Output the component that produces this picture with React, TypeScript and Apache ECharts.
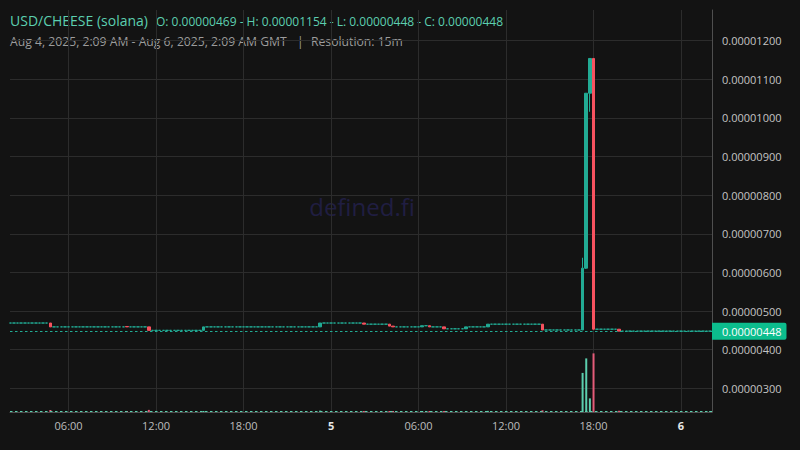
import React, { useEffect, useRef } from 'react';
import * as echarts from 'echarts';

const PAIR_LABEL = 'USD/CHEESE (solana)';
const RANGE_LABEL = 'Aug 4, 2025, 2:09 AM - Aug 6, 2025, 2:09 AM GMT';
const RESOLUTION_LABEL = 'Resolution: 15m';
const WATERMARK = 'defined.fi';

// Prices are stored in units of 1e-8 USD: 448 means 0.00000448.
const PRICE_DIVISOR = 1e8;
const BAR_MINUTES = 15;
const FIRST_BAR = '2025-08-04T02:00Z';
const BAR_COUNT = 193;
const FIRST_OPEN = 469;
// x values are hours counted from this instant
const AXIS_ORIGIN = '2025-08-04T00:00Z';
const X_MIN_HOURS = 1.98;
const X_MAX_HOURS = 50.125;

// 15-minute bars that traded; every other bar is flat at the previous close
const tradeTimes = [
  '2025-08-04T04:45Z', '2025-08-04T10:00Z', '2025-08-04T11:30Z', '2025-08-04T15:15Z',
  '2025-08-04T23:15Z', '2025-08-05T02:15Z', '2025-08-05T04:00Z', '2025-08-05T04:15Z',
  '2025-08-05T06:15Z', '2025-08-05T06:45Z', '2025-08-05T07:45Z', '2025-08-05T09:15Z',
  '2025-08-05T10:45Z', '2025-08-05T14:30Z', '2025-08-05T17:15Z', '2025-08-05T17:30Z',
  '2025-08-05T17:45Z', '2025-08-05T18:00Z', '2025-08-05T19:45Z', '2025-08-06T02:00Z',
];
const tradeOpen = [469, 460, 459, 450, 459, 469, 466, 461, 459, 462, 459, 454, 459, 466, 451, 611, 1064, 1154, 453, 448];
const tradeHigh = [469, 460, 459, 459, 469, 469, 466, 461, 462, 462, 459, 459, 466, 466, 638, 1064, 1154, 1154, 453, 448];
const tradeLow = [459, 459, 450, 450, 459, 466, 461, 459, 459, 459, 454, 454, 459, 451, 451, 609, 1016, 452, 448, 448];
const tradeClose = [459, 459, 450, 459, 469, 466, 461, 459, 462, 459, 454, 459, 466, 451, 611, 1064, 1154, 453, 448, 448];
const tradeVolume = [180, 70, 190, 90, 120, 70, 80, 60, 60, 50, 90, 60, 100, 150, 3500, 4800, 1220, 5250, 110, 80];

const VOLUME_AXIS_MAX = 36000;

// price axis
const PRICE_MIN = 238.6;
const PRICE_MAX = 1279.5;
const priceTicks = [300, 400, 500, 600, 700, 800, 900, 1000, 1100, 1200];
// time axis ticks, hours from AXIS_ORIGIN
const timeTicks = [6, 12, 18, 24, 30, 36, 42, 48];

const UP = '#22ab94';
const DOWN = '#f7525f';
const VOL_UP = '#5ccfae';
const VOL_DOWN = '#e45c79';
const LEGEND_TEAL = '#5ccfb0';
const FONT = '"Open Sans", "Noto Sans", sans-serif';

const toHours = (iso: string) => (Date.parse(iso) - Date.parse(AXIS_ORIGIN)) / 3600000;
const fmtPrice = (v: number) => (v / PRICE_DIVISOR).toFixed(8);

function buildBars() {
  const firstHour = toHours(FIRST_BAR);
  const tradeIndex = new Map<number, number>();
  tradeTimes.forEach((t, i) => tradeIndex.set(toHours(t), i));
  const candles: number[][] = [];
  const volumes: any[] = [];
  let prevClose = FIRST_OPEN;
  for (let k = 0; k < BAR_COUNT; k++) {
    const h = firstHour + (k * BAR_MINUTES) / 60;
    const i = tradeIndex.get(h);
    if (i === undefined) {
      candles.push([h, prevClose, prevClose, prevClose, prevClose]);
      continue;
    }
    candles.push([h, tradeOpen[i], tradeClose[i], tradeLow[i], tradeHigh[i]]);
    volumes.push({
      value: [h, tradeVolume[i]],
      itemStyle: { color: tradeClose[i] < tradeOpen[i] ? VOL_DOWN : VOL_UP },
    });
    prevClose = tradeClose[i];
  }
  return { candles, volumes };
}

export default function App() {
  const ref = useRef<HTMLDivElement>(null);

  useEffect(() => {
    if (!ref.current) return;
    const chart = echarts.init(ref.current, null, { renderer: 'svg' });
    const { candles, volumes } = buildBars();
    const open = candles[0][1];
    const close = candles[candles.length - 1][2];
    const high = Math.max(...candles.map((c) => c[4]));
    const low = Math.min(...candles.map((c) => c[3]));
    const lastVolume = tradeVolume[tradeVolume.length - 1];
    const ohlcText = `O: ${fmtPrice(open)} - H: ${fmtPrice(high)} - L: ${fmtPrice(low)} - C: ${fmtPrice(close)}`;

    chart.setOption({
      animation: false,
      backgroundColor: '#131313',
      textStyle: { fontFamily: FONT },
      grid: { left: 10, right: 88, top: 10, bottom: 38 },
      xAxis: {
        type: 'value',
        min: X_MIN_HOURS,
        max: X_MAX_HOURS,
        axisLine: { show: true, lineStyle: { color: '#4f4f4f' } },
        axisTick: { show: false, customValues: timeTicks },
        splitLine: { show: true, lineStyle: { color: '#2c2c2c', width: 1 } },
        axisLabel: {
          customValues: timeTicks,
          margin: 8,
          color: '#bdbdbd',
          fontSize: 11,
          fontFamily: FONT,
          formatter: (v: number) => {
            const d = new Date(Date.parse(AXIS_ORIGIN) + v * 3600000);
            if (d.getUTCHours() === 0) return `{day|${d.getUTCDate()}}`;
            return `${String(d.getUTCHours()).padStart(2, '0')}:00`;
          },
          rich: { day: { fontWeight: 'bold', color: '#e6e6e6', fontSize: 11, fontFamily: FONT } },
        },
      },
      yAxis: [
        {
          type: 'value',
          position: 'right',
          min: PRICE_MIN,
          max: PRICE_MAX,
          axisLine: { show: true, lineStyle: { color: '#4f4f4f' } },
          axisTick: { show: false, customValues: priceTicks },
          splitLine: { show: true, lineStyle: { color: '#2c2c2c', width: 1 } },
          axisLabel: {
            customValues: priceTicks,
            margin: 10,
            color: '#c4c4c4',
            fontSize: 11,
            fontFamily: FONT,
            formatter: (v: number) => fmtPrice(v),
          },
        },
        {
          type: 'value',
          min: 0,
          max: VOLUME_AXIS_MAX,
          show: false,
          splitLine: { show: false },
        },
      ],
      graphic: [
        {
          type: 'text',
          z: -1,
          x: 362,
          y: 206,
          style: {
            text: WATERMARK,
            fill: '#201e42',
            fontSize: 24,
            fontFamily: FONT,
            align: 'center',
            verticalAlign: 'middle',
          },
        },
        {
          type: 'text',
          x: 10,
          y: 20.5,
          style: { text: PAIR_LABEL, fill: LEGEND_TEAL, fontSize: 14, fontFamily: FONT, verticalAlign: 'middle' },
        },
        {
          type: 'text',
          x: 156,
          y: 21,
          style: { text: ohlcText, fill: LEGEND_TEAL, fontSize: 12, fontFamily: FONT, verticalAlign: 'middle' },
        },
        {
          type: 'text',
          x: 10,
          y: 41,
          style: { text: RANGE_LABEL, fill: '#9c9c9c', fontSize: 12.2, fontFamily: FONT, verticalAlign: 'middle' },
        },
        {
          type: 'text',
          x: 297,
          y: 41,
          style: { text: '|', fill: '#9c9c9c', fontSize: 12, fontFamily: FONT, verticalAlign: 'middle' },
        },
        {
          type: 'text',
          x: 311,
          y: 41,
          style: { text: RESOLUTION_LABEL, fill: '#9c9c9c', fontSize: 12.2, fontFamily: FONT, verticalAlign: 'middle' },
        },
      ],
      series: [
        {
          type: 'bar',
          xAxisIndex: 0,
          yAxisIndex: 1,
          data: volumes,
          barWidth: 2,
          barMinHeight: 1,
          markLine: {
            silent: true,
            symbol: 'none',
            label: { show: false },
            lineStyle: { color: VOL_UP, type: [2.5, 2.5], width: 1 },
            data: [{ yAxis: lastVolume }],
          },
        },
        {
          type: 'candlestick',
          xAxisIndex: 0,
          yAxisIndex: 0,
          data: candles,
          encode: { x: 0, y: [1, 2, 3, 4] },
          barWidth: 3,
          itemStyle: {
            color: UP,
            color0: DOWN,
            borderColor: UP,
            borderColor0: DOWN,
            borderColorDoji: UP,
            borderWidth: 1,
          },
          markLine: {
            silent: true,
            symbol: 'none',
            lineStyle: { color: UP, type: [2.5, 2.5], width: 1 },
            label: {
              show: true,
              position: 'end',
              distance: 0,
              formatter: () => fmtPrice(close),
              color: '#ffffff',
              fontSize: 11,
              fontFamily: FONT,
              backgroundColor: '#0cbd8d',
              padding: [3, 5, 3, 10],
              borderRadius: [0, 2, 2, 0],
            },
            data: [{ yAxis: close }],
          },
        },
      ],
    });

    return () => chart.dispose();
  }, []);

  return (
    <div
      ref={ref}
      style={{ position: 'fixed', left: 0, top: 0, width: 800, height: 450 }}
    />
  );
}
